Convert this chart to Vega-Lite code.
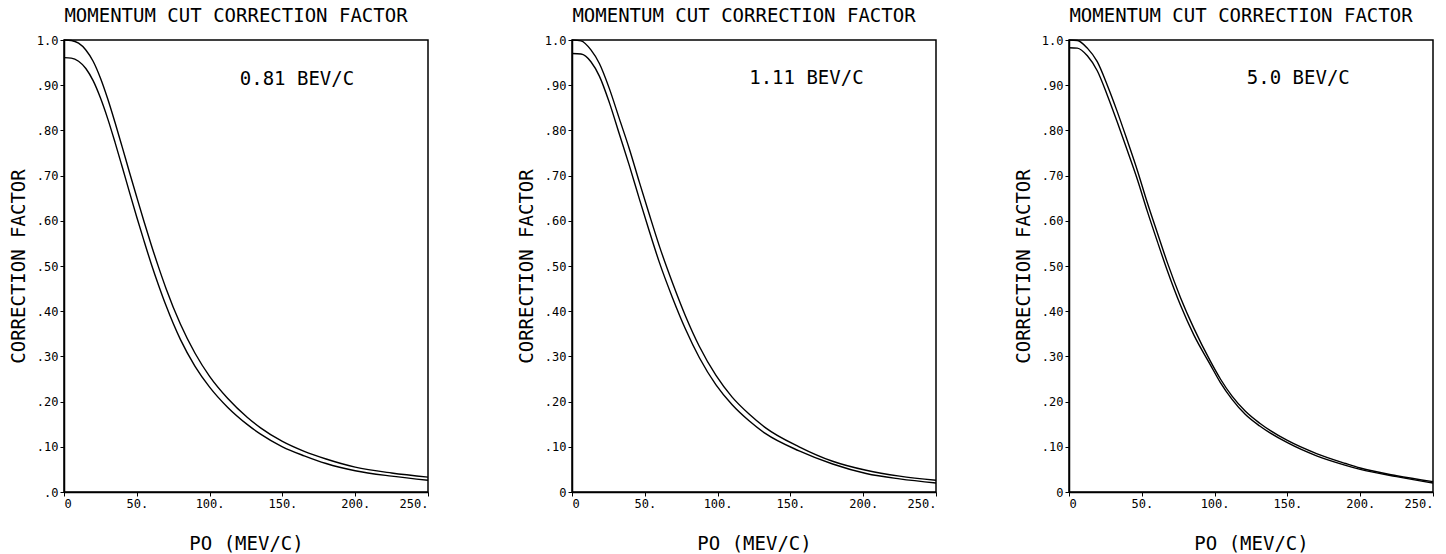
{
  "$schema": "https://vega.github.io/schema/vega-lite/v6.json",
  "background": "white",
  "padding": {"left": 8, "top": 6, "right": 0, "bottom": 0},
  "config": {
    "font": "DejaVu Sans Mono",
    "view": {"stroke": "black", "strokeWidth": 1.5},
    "axis": {"grid": false, "domainColor": "black", "domainWidth": 1.5, "tickColor": "black", "tickSize": 4, "labelColor": "black", "titleColor": "black", "labelFont": "DejaVu Sans Mono", "titleFont": "DejaVu Sans Mono", "labelFontSize": 12, "titleFontSize": 19, "titleFontWeight": "normal", "labelPadding": 2},
    "title": {"font": "DejaVu Sans Mono", "fontSize": 19, "fontWeight": "normal", "color": "black", "offset": 8}
  },
  "datasets": {
    "p1": [
      {"curve": "upper", "p": 0, "f": 1.0}, {"curve": "upper", "p": 5, "f": 0.999}, {"curve": "upper", "p": 10, "f": 0.993}, {"curve": "upper", "p": 15, "f": 0.978}, {"curve": "upper", "p": 20, "f": 0.953}, {"curve": "upper", "p": 25, "f": 0.916}, {"curve": "upper", "p": 30, "f": 0.870}, {"curve": "upper", "p": 35, "f": 0.818}, {"curve": "upper", "p": 40, "f": 0.763}, {"curve": "upper", "p": 45, "f": 0.707}, {"curve": "upper", "p": 50, "f": 0.652}, {"curve": "upper", "p": 55, "f": 0.598}, {"curve": "upper", "p": 60, "f": 0.546}, {"curve": "upper", "p": 65, "f": 0.497}, {"curve": "upper", "p": 70, "f": 0.451}, {"curve": "upper", "p": 80, "f": 0.371}, {"curve": "upper", "p": 90, "f": 0.307}, {"curve": "upper", "p": 100, "f": 0.256}, {"curve": "upper", "p": 112.5, "f": 0.207}, {"curve": "upper", "p": 126, "f": 0.165}, {"curve": "upper", "p": 135, "f": 0.142}, {"curve": "upper", "p": 150, "f": 0.112}, {"curve": "upper", "p": 165, "f": 0.090}, {"curve": "upper", "p": 180, "f": 0.073}, {"curve": "upper", "p": 200, "f": 0.055}, {"curve": "upper", "p": 225, "f": 0.042}, {"curve": "upper", "p": 250, "f": 0.033},
      {"curve": "lower", "p": 0, "f": 0.961}, {"curve": "lower", "p": 5, "f": 0.960}, {"curve": "lower", "p": 10, "f": 0.953}, {"curve": "lower", "p": 15, "f": 0.937}, {"curve": "lower", "p": 20, "f": 0.910}, {"curve": "lower", "p": 25, "f": 0.872}, {"curve": "lower", "p": 30, "f": 0.826}, {"curve": "lower", "p": 35, "f": 0.774}, {"curve": "lower", "p": 40, "f": 0.719}, {"curve": "lower", "p": 45, "f": 0.663}, {"curve": "lower", "p": 50, "f": 0.608}, {"curve": "lower", "p": 55, "f": 0.555}, {"curve": "lower", "p": 60, "f": 0.504}, {"curve": "lower", "p": 65, "f": 0.457}, {"curve": "lower", "p": 70, "f": 0.413}, {"curve": "lower", "p": 80, "f": 0.337}, {"curve": "lower", "p": 90, "f": 0.278}, {"curve": "lower", "p": 100, "f": 0.232}, {"curve": "lower", "p": 112.5, "f": 0.187}, {"curve": "lower", "p": 126, "f": 0.149}, {"curve": "lower", "p": 135, "f": 0.128}, {"curve": "lower", "p": 150, "f": 0.100}, {"curve": "lower", "p": 165, "f": 0.080}, {"curve": "lower", "p": 180, "f": 0.063}, {"curve": "lower", "p": 200, "f": 0.047}, {"curve": "lower", "p": 225, "f": 0.035}, {"curve": "lower", "p": 250, "f": 0.026}
    ],
    "p2": [
      {"curve": "upper", "p": 0, "f": 1.0}, {"curve": "upper", "p": 6.2, "f": 0.998}, {"curve": "upper", "p": 13, "f": 0.978}, {"curve": "upper", "p": 18.8, "f": 0.948}, {"curve": "upper", "p": 25.6, "f": 0.893}, {"curve": "upper", "p": 32.5, "f": 0.826}, {"curve": "upper", "p": 39.4, "f": 0.759}, {"curve": "upper", "p": 46.3, "f": 0.685}, {"curve": "upper", "p": 53, "f": 0.615}, {"curve": "upper", "p": 60, "f": 0.544}, {"curve": "upper", "p": 69, "f": 0.463}, {"curve": "upper", "p": 78, "f": 0.389}, {"curve": "upper", "p": 87.5, "f": 0.322}, {"curve": "upper", "p": 98.9, "f": 0.258}, {"curve": "upper", "p": 110, "f": 0.210}, {"curve": "upper", "p": 121.8, "f": 0.172}, {"curve": "upper", "p": 133, "f": 0.142}, {"curve": "upper", "p": 156, "f": 0.100}, {"curve": "upper", "p": 179, "f": 0.068}, {"curve": "upper", "p": 202, "f": 0.048}, {"curve": "upper", "p": 225, "f": 0.035}, {"curve": "upper", "p": 250, "f": 0.026},
      {"curve": "lower", "p": 0, "f": 0.970}, {"curve": "lower", "p": 6.2, "f": 0.969}, {"curve": "lower", "p": 13, "f": 0.952}, {"curve": "lower", "p": 18.8, "f": 0.920}, {"curve": "lower", "p": 25.6, "f": 0.862}, {"curve": "lower", "p": 32.5, "f": 0.792}, {"curve": "lower", "p": 39.4, "f": 0.722}, {"curve": "lower", "p": 46.3, "f": 0.648}, {"curve": "lower", "p": 53, "f": 0.578}, {"curve": "lower", "p": 60, "f": 0.508}, {"curve": "lower", "p": 69, "f": 0.430}, {"curve": "lower", "p": 78, "f": 0.360}, {"curve": "lower", "p": 87.5, "f": 0.297}, {"curve": "lower", "p": 98.9, "f": 0.237}, {"curve": "lower", "p": 110, "f": 0.193}, {"curve": "lower", "p": 121.8, "f": 0.157}, {"curve": "lower", "p": 133, "f": 0.129}, {"curve": "lower", "p": 156, "f": 0.091}, {"curve": "lower", "p": 179, "f": 0.062}, {"curve": "lower", "p": 202, "f": 0.041}, {"curve": "lower", "p": 225, "f": 0.029}, {"curve": "lower", "p": 250, "f": 0.020}
    ],
    "p3": [
      {"curve": "upper", "p": 0, "f": 1.0}, {"curve": "upper", "p": 5.7, "f": 0.999}, {"curve": "upper", "p": 12.6, "f": 0.982}, {"curve": "upper", "p": 19.4, "f": 0.952}, {"curve": "upper", "p": 26.3, "f": 0.900}, {"curve": "upper", "p": 33.2, "f": 0.841}, {"curve": "upper", "p": 40, "f": 0.778}, {"curve": "upper", "p": 46.9, "f": 0.712}, {"curve": "upper", "p": 53.7, "f": 0.641}, {"curve": "upper", "p": 60.6, "f": 0.574}, {"curve": "upper", "p": 67.5, "f": 0.508}, {"curve": "upper", "p": 76.6, "f": 0.430}, {"curve": "upper", "p": 85.8, "f": 0.362}, {"curve": "upper", "p": 97, "f": 0.290}, {"curve": "upper", "p": 104, "f": 0.250}, {"curve": "upper", "p": 112, "f": 0.212}, {"curve": "upper", "p": 121, "f": 0.179}, {"curve": "upper", "p": 131, "f": 0.152}, {"curve": "upper", "p": 150, "f": 0.114}, {"curve": "upper", "p": 170, "f": 0.085}, {"curve": "upper", "p": 190, "f": 0.063}, {"curve": "upper", "p": 200, "f": 0.053}, {"curve": "upper", "p": 225, "f": 0.036}, {"curve": "upper", "p": 250, "f": 0.023},
      {"curve": "lower", "p": 0, "f": 0.983}, {"curve": "lower", "p": 5.7, "f": 0.982}, {"curve": "lower", "p": 12.6, "f": 0.965}, {"curve": "lower", "p": 19.4, "f": 0.932}, {"curve": "lower", "p": 26.3, "f": 0.878}, {"curve": "lower", "p": 33.2, "f": 0.818}, {"curve": "lower", "p": 40, "f": 0.756}, {"curve": "lower", "p": 46.9, "f": 0.692}, {"curve": "lower", "p": 53.7, "f": 0.622}, {"curve": "lower", "p": 60.6, "f": 0.555}, {"curve": "lower", "p": 67.5, "f": 0.490}, {"curve": "lower", "p": 76.6, "f": 0.413}, {"curve": "lower", "p": 85.8, "f": 0.347}, {"curve": "lower", "p": 97, "f": 0.282}, {"curve": "lower", "p": 104, "f": 0.242}, {"curve": "lower", "p": 112, "f": 0.205}, {"curve": "lower", "p": 121, "f": 0.172}, {"curve": "lower", "p": 131, "f": 0.146}, {"curve": "lower", "p": 150, "f": 0.109}, {"curve": "lower", "p": 170, "f": 0.080}, {"curve": "lower", "p": 190, "f": 0.059}, {"curve": "lower", "p": 200, "f": 0.050}, {"curve": "lower", "p": 225, "f": 0.034}, {"curve": "lower", "p": 250, "f": 0.020}
    ]
  },
  "spacing": 84,
  "hconcat": [
    {
      "width": 364, "height": 452,
      "title": {"text": "MOMENTUM CUT CORRECTION FACTOR", "dx": -10},
      "layer": [
        {
          "data": {"name": "p1"},
          "mark": {"type": "line", "interpolate": "monotone", "color": "black", "strokeWidth": 1.4},
          "encoding": {
            "x": {"field": "p", "type": "quantitative", "scale": {"domain": [0, 250], "nice": false}, "axis": {"values": [0, 50, 100, 150, 200, 250], "labelExpr": "datum.value == 0 ? '0' : datum.value + '.'", "title": "PO (MEV/C)", "titlePadding": 25}},
            "y": {"field": "f", "type": "quantitative", "scale": {"domain": [0, 1], "nice": false}, "axis": {"values": [0, 0.1, 0.2, 0.3, 0.4, 0.5, 0.6, 0.7, 0.8, 0.9, 1], "labelExpr": "datum.value == 1 ? '1.0' : datum.value == 0 ? '.0' : replace(format(datum.value, '.2f'), '0.', '.')", "title": "CORRECTION FACTOR", "titlePadding": 8}},
            "detail": {"field": "curve", "type": "nominal"}
          }
        },
        {
          "data": {"values": [{"p": 160, "f": 0.914, "label": "0.81 BEV/C"}]},
          "mark": {"type": "text", "fontSize": 19, "color": "black", "font": "DejaVu Sans Mono"},
          "encoding": {"x": {"field": "p", "type": "quantitative"}, "y": {"field": "f", "type": "quantitative"}, "text": {"field": "label"}}
        }
      ]
    },
    {
      "spacing": 73,
      "hconcat": [
        {
          "width": 364, "height": 452,
          "title": {"text": "MOMENTUM CUT CORRECTION FACTOR", "dx": -10},
          "layer": [
            {
              "data": {"name": "p2"},
              "mark": {"type": "line", "interpolate": "monotone", "color": "black", "strokeWidth": 1.4},
              "encoding": {
                "x": {"field": "p", "type": "quantitative", "scale": {"domain": [0, 250], "nice": false}, "axis": {"values": [0, 50, 100, 150, 200, 250], "labelExpr": "datum.value == 0 ? '0' : datum.value + '.'", "title": "PO (MEV/C)", "titlePadding": 25}},
                "y": {"field": "f", "type": "quantitative", "scale": {"domain": [0, 1], "nice": false}, "axis": {"values": [0, 0.1, 0.2, 0.3, 0.4, 0.5, 0.6, 0.7, 0.8, 0.9, 1], "labelExpr": "datum.value == 1 ? '1.0' : datum.value == 0 ? '0' : replace(format(datum.value, '.2f'), '0.', '.')", "title": "CORRECTION FACTOR", "titlePadding": 8}},
                "detail": {"field": "curve", "type": "nominal"}
              }
            },
            {
              "data": {"values": [{"p": 161, "f": 0.915, "label": "1.11 BEV/C"}]},
              "mark": {"type": "text", "fontSize": 19, "color": "black", "font": "DejaVu Sans Mono"},
              "encoding": {"x": {"field": "p", "type": "quantitative"}, "y": {"field": "f", "type": "quantitative"}, "text": {"field": "label"}}
            }
          ]
        },
        {
          "width": 364, "height": 452,
          "title": {"text": "MOMENTUM CUT CORRECTION FACTOR", "dx": -10},
          "layer": [
            {
              "data": {"name": "p3"},
              "mark": {"type": "line", "interpolate": "monotone", "color": "black", "strokeWidth": 1.4},
              "encoding": {
                "x": {"field": "p", "type": "quantitative", "scale": {"domain": [0, 250], "nice": false}, "axis": {"values": [0, 50, 100, 150, 200, 250], "labelExpr": "datum.value == 0 ? '0' : datum.value + '.'", "title": "PO (MEV/C)", "titlePadding": 25}},
                "y": {"field": "f", "type": "quantitative", "scale": {"domain": [0, 1], "nice": false}, "axis": {"values": [0, 0.1, 0.2, 0.3, 0.4, 0.5, 0.6, 0.7, 0.8, 0.9, 1], "labelExpr": "datum.value == 1 ? '1.0' : datum.value == 0 ? '0' : replace(format(datum.value, '.2f'), '0.', '.')", "title": "CORRECTION FACTOR", "titlePadding": 8}},
                "detail": {"field": "curve", "type": "nominal"}
              }
            },
            {
              "data": {"values": [{"p": 157.5, "f": 0.915, "label": "5.0 BEV/C"}]},
              "mark": {"type": "text", "fontSize": 19, "color": "black", "font": "DejaVu Sans Mono"},
              "encoding": {"x": {"field": "p", "type": "quantitative"}, "y": {"field": "f", "type": "quantitative"}, "text": {"field": "label"}}
            }
          ]
        }
      ]
    }
  ]
}
